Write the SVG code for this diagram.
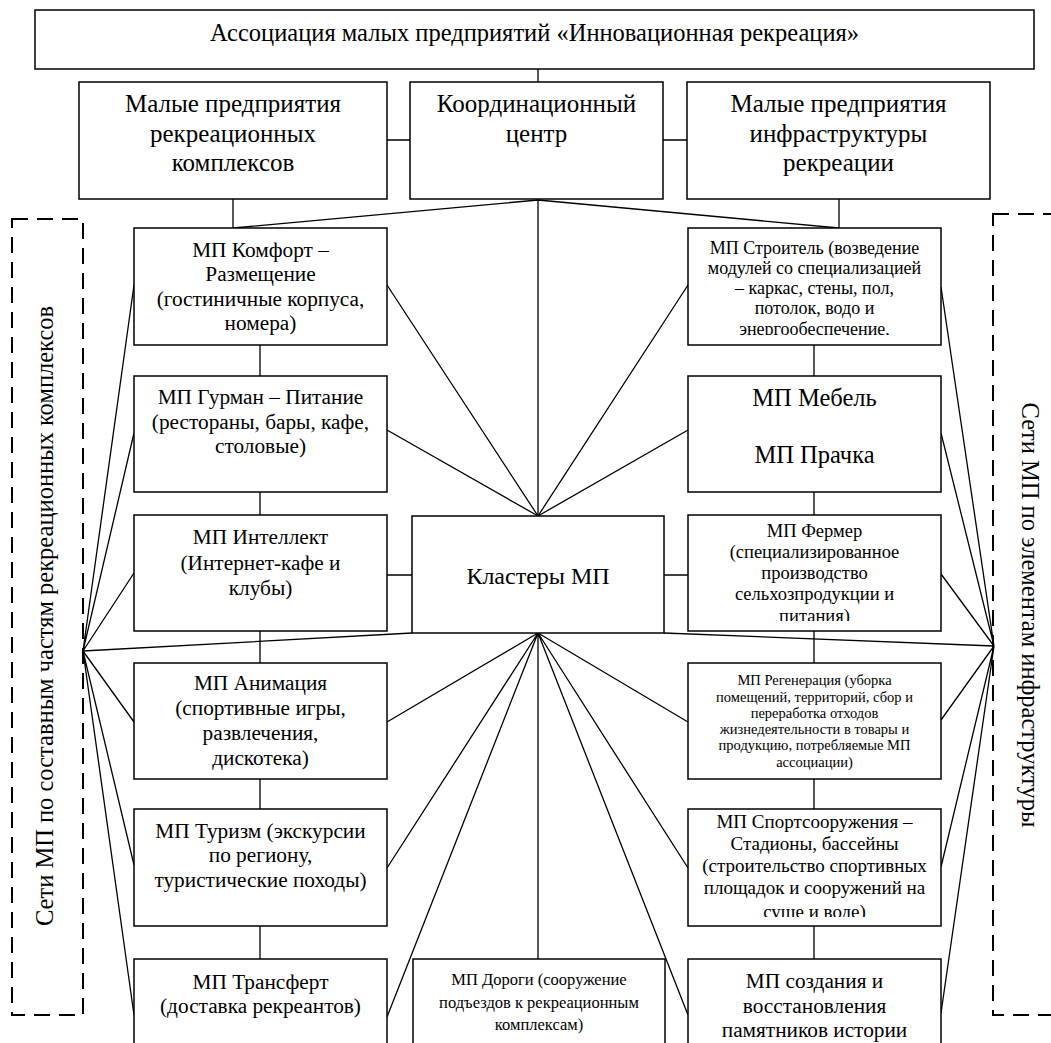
<svg xmlns="http://www.w3.org/2000/svg" width="1051" height="1043" viewBox="0 0 1051 1043">
<style>
.box{fill:#fff;stroke:#000;stroke-width:1.5}
.ln{stroke:#000;stroke-width:1.3;fill:none}
.dash{fill:none;stroke:#000;stroke-width:2;stroke-dasharray:16 9}
.t{font-family:'Liberation Serif','Times New Roman',serif;text-anchor:middle;fill:#000}
.fT{font-size:24.5px}.fR{font-size:25px}.fC{font-size:21.3px}.f24{font-size:24.5px}.fK{font-size:24px}.f18{font-size:18px}.f185{font-size:18.5px}.f19{font-size:19px}.f165{font-size:16.5px}.f145{font-size:14.5px}
</style>
<defs>
<clipPath id="cS"><rect x="688" y="228" width="253" height="107"/></clipPath>
<clipPath id="cF"><rect x="688" y="515" width="253" height="106"/></clipPath>
<clipPath id="cSp"><rect x="688" y="809" width="253" height="108"/></clipPath>
</defs>
<g id="connectors">
<path class="ln" d="M538 69V82M387 140H410M663 140H687"/>
<path class="ln" d="M233 199V228M839 199V228M538 200L233 228M538 200L839 228M538 200V516"/>
<path class="ln" d="M260 345V376M260 492V515M260 631V663M260 779V809M260 926V959"/>
<path class="ln" d="M814 345V376M814 492V515M814 631V663M814 779V809M814 926V959"/>
<path class="ln" d="M387 575H412M664 575H688"/>
<path class="ln" d="M538 516L387 285M538 516L387 430M538 516L688 285M538 516L688 430"/>
<path class="ln" d="M538 633L387 722M538 633L387 868M538 633L387 1017M538 633L688 722M538 633L688 868M538 633L688 1015M538 633V959"/>
<path class="ln" d="M83 651L134 285M83 651L134 433M83 651L134 573M83 651L134 722M83 651L134 865M83 651L134 1015M83 651L412 633"/>
<path class="ln" d="M994 646L941 287M994 646L941 433M994 646L941 574M994 646L941 720M994 646L941 867M994 646L941 1013M994 646L664 633"/>
</g>
<g id="n-assoc"><rect class="box" x="35" y="10" width="999" height="59"/><text class="t fT" x="534.5" y="41">Ассоциация малых предприятий «Инновационная рекреация»</text></g>
<g id="n-mp-rk"><rect class="box" x="79" y="82" width="308" height="117"/><text class="t fR" x="233" y="112">Малые предприятия</text><text class="t fR" x="233" y="142">рекреационных</text><text class="t fR" x="233" y="171">комплексов</text></g>
<g id="n-coord"><rect class="box" x="410" y="82" width="253" height="117"/><text class="t fR" x="536.5" y="112">Координационный</text><text class="t fR" x="536.5" y="142">центр</text></g>
<g id="n-mp-infra"><rect class="box" x="687" y="82" width="303" height="117"/><text class="t fR" x="838.5" y="112">Малые предприятия</text><text class="t fR" x="838.5" y="142">инфраструктуры</text><text class="t fR" x="838.5" y="171">рекреации</text></g>
<g id="n-komfort"><rect class="box" x="134" y="228" width="253" height="117"/><text class="t fC"><tspan x="260.5" y="257">МП Комфорт –</tspan><tspan x="260.5" y="281">Размещение</tspan><tspan x="260.5" y="306">(гостиничные корпуса,</tspan><tspan x="260.5" y="330">номера)</tspan></text></g>
<g id="n-gurman"><rect class="box" x="134" y="376" width="253" height="116"/><text class="t fC"><tspan x="260.5" y="404">МП Гурман – Питание</tspan><tspan x="260.5" y="429">(рестораны, бары, кафе,</tspan><tspan x="260.5" y="453">столовые)</tspan></text></g>
<g id="n-intellekt"><rect class="box" x="134" y="515" width="253" height="116"/><text class="t fC"><tspan x="260.5" y="544">МП Интеллект</tspan><tspan x="260.5" y="570">(Интернет-кафе и</tspan><tspan x="260.5" y="595">клубы)</tspan></text></g>
<g id="n-animacia"><rect class="box" x="134" y="663" width="253" height="116"/><text class="t fC"><tspan x="260.5" y="690">МП Анимация</tspan><tspan x="260.5" y="715">(спортивные игры,</tspan><tspan x="260.5" y="740">развлечения,</tspan><tspan x="260.5" y="765">дискотека)</tspan></text></g>
<g id="n-turizm"><rect class="box" x="134" y="809" width="253" height="117"/><text class="t fC"><tspan x="260.5" y="838">МП Туризм (экскурсии</tspan><tspan x="260.5" y="862">по региону,</tspan><tspan x="260.5" y="887">туристические походы)</tspan></text></g>
<g id="n-transfert"><rect class="box" x="134" y="959" width="253" height="100"/><text class="t fC"><tspan x="260.5" y="989">МП Трансферт</tspan><tspan x="260.5" y="1013">(доставка рекреантов)</tspan></text></g>
<g id="n-stroitel"><rect class="box" x="688" y="228" width="253" height="117"/><text class="t f18" clip-path="url(#cS)"><tspan x="814.5" y="254">МП Строитель (возведение</tspan><tspan x="814.5" y="274">модулей со специализацией</tspan><tspan x="814.5" y="294">– каркас, стены, пол,</tspan><tspan x="814.5" y="314">потолок, водо и</tspan><tspan x="814.5" y="335">энергообеспечение,</tspan></text></g>
<g id="n-mebel"><rect class="box" x="688" y="376" width="253" height="116"/><text class="t f24"><tspan x="814.5" y="406">МП Мебель</tspan><tspan x="814.5" y="463">МП Прачка</tspan></text></g>
<g id="n-fermer"><rect class="box" x="688" y="515" width="253" height="116"/><text class="t f185" clip-path="url(#cF)"><tspan x="814.5" y="537">МП Фермер</tspan><tspan x="814.5" y="558">(специализированное</tspan><tspan x="814.5" y="579">производство</tspan><tspan x="814.5" y="600">сельхозпродукции и</tspan><tspan x="814.5" y="622">питания)</tspan></text></g>
<g id="n-regen"><rect class="box" x="688" y="663" width="253" height="116"/><text class="t f145"><tspan x="814.5" y="685">МП Регенерация (уборка</tspan><tspan x="814.5" y="702">помещений, территорий, сбор и</tspan><tspan x="814.5" y="718">переработка отходов</tspan><tspan x="814.5" y="734">жизнедеятельности в товары и</tspan><tspan x="814.5" y="750">продукцию, потребляемые МП</tspan><tspan x="814.5" y="767">ассоциации)</tspan></text></g>
<g id="n-sport"><rect class="box" x="688" y="809" width="253" height="117"/><text class="t f19" clip-path="url(#cSp)"><tspan x="814.5" y="828">МП Спортсооружения –</tspan><tspan x="814.5" y="850">Стадионы, бассейны</tspan><tspan x="814.5" y="872">(строительство спортивных</tspan><tspan x="814.5" y="894">площадок и сооружений на</tspan><tspan x="814.5" y="918">суше и воде)</tspan></text></g>
<g id="n-pamyatniki"><rect class="box" x="688" y="959" width="253" height="100"/><text class="t fC"><tspan x="814.5" y="988">МП создания и</tspan><tspan x="814.5" y="1013">восстановления</tspan><tspan x="814.5" y="1037">памятников истории</tspan></text></g>
<g id="n-klastery"><rect class="box" x="412" y="516" width="252" height="117"/><text class="t fK" x="538" y="584">Кластеры МП</text></g>
<g id="n-dorogi"><rect class="box" x="413" y="959" width="252" height="100"/><text class="t f165"><tspan x="539" y="985">МП Дороги (сооружение</tspan><tspan x="539" y="1007.5">подъездов к рекреационным</tspan><tspan x="539" y="1030">комплексам)</tspan></text></g>
<g id="n-net-left"><rect class="dash" x="12" y="219" width="71" height="796"/><text class="t f24" transform="translate(53 616) rotate(-90)">Сети МП по составным частям рекреационных комплексов</text></g>
<g id="n-net-right"><rect class="dash" x="993" y="214" width="80" height="801"/><text class="t f24" transform="translate(1022 615) rotate(90)">Сети МП по элементам инфраструктуры</text></g>
</svg>
